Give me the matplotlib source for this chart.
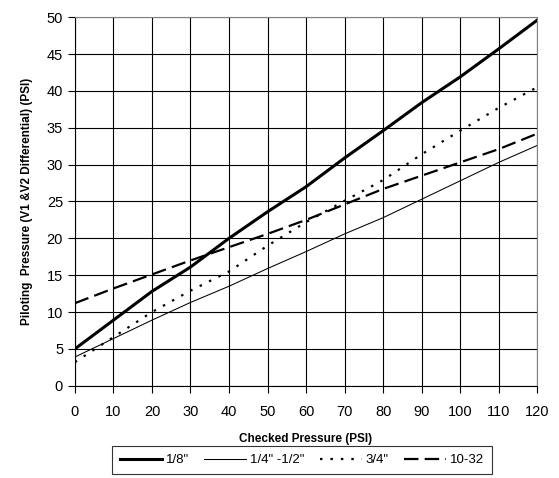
import matplotlib
matplotlib.use("Agg")
import matplotlib.pyplot as plt

plt.rcParams['font.family'] = ['Liberation Sans', 'DejaVu Sans']

# Checked pressure (x) and piloting pressure per port size
checked = [0, 10, 20, 30, 40, 50, 60, 70, 80, 90, 100, 110, 120]
p_18 = [5.0, 8.9, 12.8, 16.1, 20.0, 23.6, 27.0, 30.9, 34.6, 38.4, 41.9, 45.7, 49.6]
p_14_12 = [3.9, 6.4, 8.9, 11.3, 13.5, 15.9, 18.2, 20.6, 22.8, 25.3, 27.8, 30.3, 32.6]
p_34 = [3.2, 6.6, 10.0, 12.9, 15.5, 19.0, 22.2, 25.1, 27.9, 31.4, 34.6, 37.7, 40.5]
p_1032 = [11.2, 13.2, 15.1, 17.0, 18.8, 20.6, 22.5, 24.6, 26.7, 28.5, 30.3, 32.1, 34.2]
labels = ['1/8"', '1/4" -1/2"', '3/4"', '10-32']

fig = plt.figure(figsize=(5.59, 4.78), dpi=100)
ax = fig.add_axes([0.134, 0.193, 0.827, 0.771])

ax.plot(checked, p_18, color="black", linewidth=2.2, label=labels[0])
ax.plot(checked, p_14_12, color="black", linewidth=0.75, label=labels[1])
ax.plot(checked, p_34, color="black", linewidth=1.6, dashes=(1.1, 3.6), label=labels[2])
ax.plot(checked, p_1032, color="black", linewidth=1.6, dashes=(6.5, 2.8), label=labels[3])

ax.set_xlim(0, 120)
ax.set_ylim(0, 50)
ax.set_xticks(range(0, 121, 10))
ax.set_yticks(range(0, 51, 5))
ax.grid(True, color="black", linewidth=0.8)
ax.set_axisbelow(True)
ax.tick_params(direction="out", length=5, width=0.8, labelsize=10.5)
ax.tick_params(axis="x", pad=9)
for s in ["top", "right"]:
    ax.spines[s].set_color("gray")
for s in ["left", "bottom"]:
    ax.spines[s].set_color("black")

ax.set_xlabel("Checked Pressure (PSI)", fontsize=8.5, fontweight="bold", labelpad=10)
ax.set_ylabel("Piloting  Pressure (V1 &V2 Differential) (PSI)", fontsize=8.5,
              fontweight="bold", labelpad=10)

leg = fig.legend(loc="upper left", bbox_to_anchor=(0.2004, 0.067), ncol=4,
                 fontsize=9.5, frameon=True, fancybox=False, edgecolor="black",
                 handlelength=3.2, columnspacing=1.13, handletextpad=0.3,
                 borderpad=0.6, borderaxespad=0)
leg.get_frame().set_linewidth(0.8)

fig.savefig("out.png", dpi=100)
